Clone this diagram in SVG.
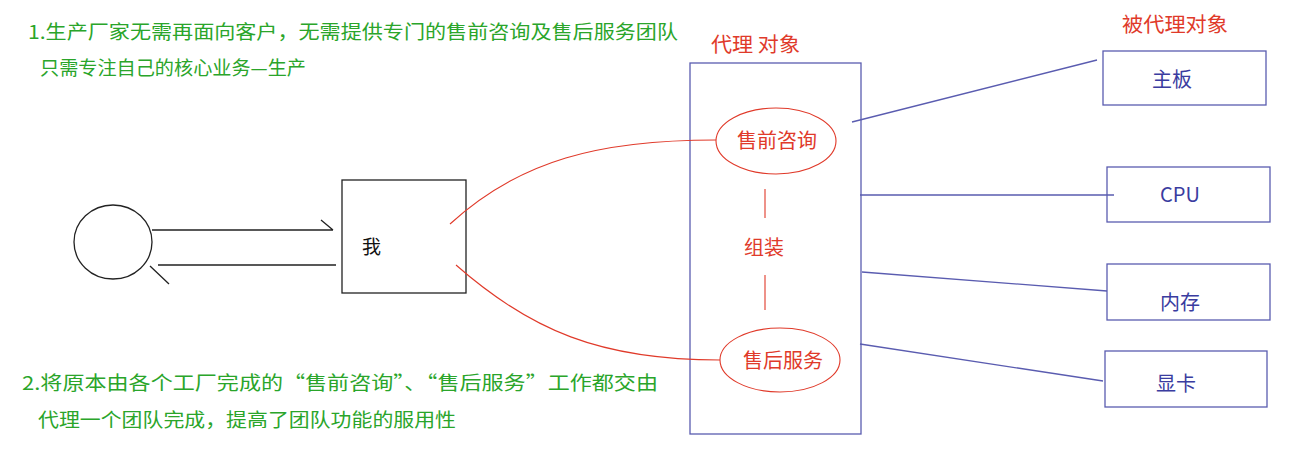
<svg xmlns="http://www.w3.org/2000/svg" width="1292" height="457" viewBox="0 0 1292 457">
<style>
.g{fill:#2aa52a;font-family:"Noto Sans CJK SC",sans-serif;font-size:19px}
.r{fill:#e03a2a;font-family:"Noto Sans CJK SC",sans-serif;font-size:20px}
.b{fill:#3a3ca0;font-family:"Noto Sans CJK SC",sans-serif;font-size:20px;text-anchor:middle}
.bx{fill:none;stroke:#5a5cb0;stroke-width:1.3}
.bl{stroke:#5a5cb0;stroke-width:1.3;fill:none}
.rl{stroke:#e03a2a;stroke-width:1.1;fill:none}
.k{stroke:#222;stroke-width:1.3;fill:none}
</style>
<rect width="1292" height="457" fill="#fff"/>
<text class="g" x="28" y="39" textLength="650" lengthAdjust="spacingAndGlyphs">1.生产厂家无需再面向客户，无需提供专门的售前咨询及售后服务团队</text>
<text class="g" x="40" y="75" textLength="266" lengthAdjust="spacingAndGlyphs">只需专注自己的核心业务—生产</text>
<text class="g" x="22" y="390" textLength="636" lengthAdjust="spacingAndGlyphs">2.将原本由各个工厂完成的“售前咨询”、“售后服务”工作都交由</text>
<text class="g" x="38" y="427" textLength="418" lengthAdjust="spacingAndGlyphs">代理一个团队完成，提高了团队功能的服用性</text>
<text class="r" x="711" y="52" textLength="89" lengthAdjust="spacingAndGlyphs">代理 对象</text>
<text class="r" x="1122" y="32" textLength="106" lengthAdjust="spacingAndGlyphs">被代理对象</text>
<g id="client"><ellipse class="k" cx="113" cy="242" rx="39" ry="37"/></g>
<g id="me"><rect class="k" x="342" y="180" width="124" height="113"/><text x="362" y="254" style="font-family:'Noto Sans CJK SC',sans-serif;font-size:19px;fill:#111">我</text></g>
<g id="proxy"><rect class="bx" x="690" y="63" width="171" height="371"/>
<ellipse class="rl" cx="776" cy="141" rx="60" ry="33"/><text class="r" x="777" y="148" text-anchor="middle">售前咨询</text>
<ellipse class="rl" cx="780" cy="360" rx="60" ry="32"/><text class="r" x="783" y="368" text-anchor="middle">售后服务</text>
<text class="r" x="764" y="255" text-anchor="middle">组装</text></g>
<g id="n1"><rect class="bx" x="1103" y="51" width="163" height="54"/><text class="b" x="1172" y="87">主板</text></g>
<g id="n2"><rect class="bx" x="1107" y="167" width="163" height="55"/><text class="b" x="1180" y="202">CPU</text></g>
<g id="n3"><rect class="bx" x="1107" y="264" width="163" height="56"/><text class="b" x="1180" y="310">内存</text></g>
<g id="n4"><rect class="bx" x="1105" y="351" width="162" height="56"/><text class="b" x="1176" y="391">显卡</text></g>
<g id="connectors">
<path class="k" d="M152 230H333M321 220L333 230M158 265H336M150 266L169 284"/>
<path class="rl" d="M450 224C520 160 600 140 716 140M456 265C530 330 600 360 720 360M765 189V218M765 275V310"/>
<path class="bl" d="M852 122L1097 60M860 195H1114M862 272L1107 291M860 344L1103 381"/>
</g>
</svg>
